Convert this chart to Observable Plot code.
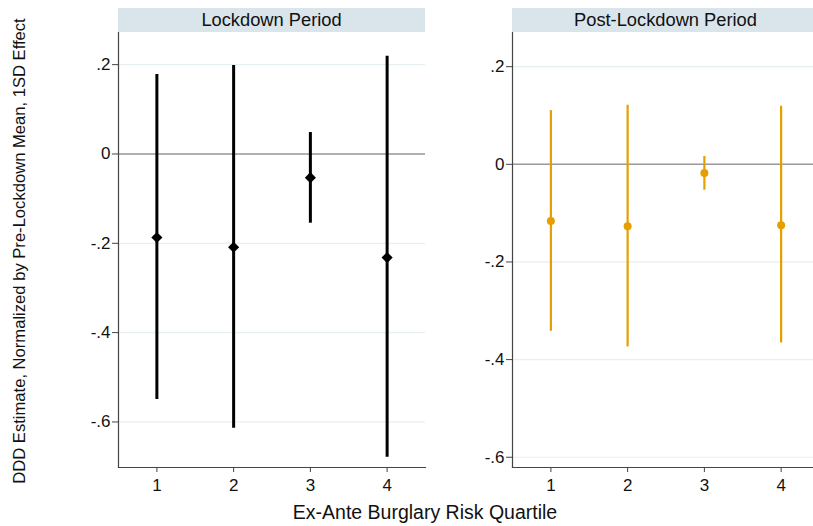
<!DOCTYPE html>
<html>
<head>
<meta charset="utf-8">
<script src="https://cdn.jsdelivr.net/npm/d3@7"></script>
<script src="https://cdn.jsdelivr.net/npm/@observablehq/plot@0.6"></script>
<style>
  html, body { margin: 0; padding: 0; background: #fff; overflow: hidden; }
  #wrap { position: relative; width: 813px; height: 526px; overflow: hidden;
          font-family: "Liberation Sans", Arial, Helvetica, sans-serif; color: #111; }
  .panel { position: absolute; top: 0; }
  .panel svg { max-width: none !important; }
  .strip { position: absolute; top: 8px; height: 24px; background: #d9e5eb;
           font-size: 18.3px; line-height: 24px; text-align: center; color: #111; }
  #ytitle { position: absolute; left: 20px; top: 251px; transform: translate(-50%, -50%) rotate(-90deg);
            white-space: nowrap; font-size: 16.6px; }
  #xtitle { position: absolute; left: 425px; top: 501px; transform: translateX(-50%);
            white-space: nowrap; font-size: 19.5px; }
</style>
</head>
<body>
<div id="wrap">
  <div id="left" class="panel" style="left:0px; width:425px"></div>
  <div id="right" class="panel" style="left:440px; width:379px"></div>
  <div class="strip" style="left:118px; width:307px">Lockdown Period</div>
  <div class="strip" style="left:512px; width:307px">Post-Lockdown Period</div>
  <div id="ytitle">DDD Estimate, Normalized by Pre-Lockdown Mean, 1SD Effect</div>
  <div id="xtitle">Ex-Ante Burglary Risk Quartile</div>
</div>
<script>
// ---- data ----
const quartiles = [1, 2, 3, 4];
const lockEst = [-0.187, -0.209, -0.053, -0.232];
const lockLo  = [-0.550, -0.614, -0.155, -0.679];
const lockHi  = [0.178, 0.198, 0.048, 0.219];
const postEst = [-0.116, -0.127, -0.018, -0.125];
const postLo  = [-0.342, -0.374, -0.053, -0.366];
const postHi  = [0.110, 0.121, 0.016, 0.119];
const yTicks = [0.2, 0, -0.2, -0.4, -0.6];
const yTickLabels = [".2", "0", "-.2", "-.4", "-.6"];
const xDomain = [0.5, 4.5];
const lockYDomain = [-0.702, 0.272];
const postYDomain = [-0.621, 0.270];

const rows = (est, lo, hi) => quartiles.map((q, i) => ({q, est: est[i], lo: lo[i], hi: hi[i]}));
const fmtY = d => yTickLabels[yTicks.findIndex(t => Math.abs(t - d) < 1e-9)];

function panel(data, yDomain, color, symbol, r, sw, width, marginLeft) {
  return Plot.plot({
    width, height: 500,
    marginLeft, marginRight: 0, marginTop: 32, marginBottom: 33,
    style: {fontFamily: '"Liberation Sans", Arial, Helvetica, sans-serif', fontSize: "17px", color: "#111", overflow: "visible", background: "transparent", maxWidth: "none"},
    x: {domain: xDomain},
    y: {domain: yDomain},
    marks: [
      Plot.gridY(yTicks, {stroke: "#e6eff1", strokeOpacity: 1, strokeWidth: 1.2}),
      Plot.ruleY([0], {stroke: "#9a9a9a", strokeWidth: 1.5}),
      Plot.frame({anchor: "left", stroke: "#444", strokeWidth: 1.2}),
      Plot.frame({anchor: "bottom", stroke: "#444", strokeWidth: 1.2}),
      Plot.axisY(yTicks, {tickFormat: fmtY, tickSize: 6, tickPadding: 2, stroke: "#444", fontSize: 17, label: null}),
      Plot.axisX(quartiles, {tickFormat: d => String(d), tickSize: 5, tickPadding: 6, stroke: "#444", fontSize: 17, label: null}),
      Plot.ruleX(data, {x: "q", y1: "lo", y2: "hi", stroke: color, strokeWidth: sw}),
      Plot.dot(data, {x: "q", y: "est", fill: color, stroke: null, symbol, r})
    ]
  });
}

document.getElementById("left").appendChild(
  panel(rows(lockEst, lockLo, lockHi), lockYDomain, "#000", "diamond2", 5, 3, 425, 118));
document.getElementById("right").appendChild(
  panel(rows(postEst, postLo, postHi), postYDomain, "#e69f00", "circle", 4, 2.2, 379, 72));
</script>
</body>
</html>
